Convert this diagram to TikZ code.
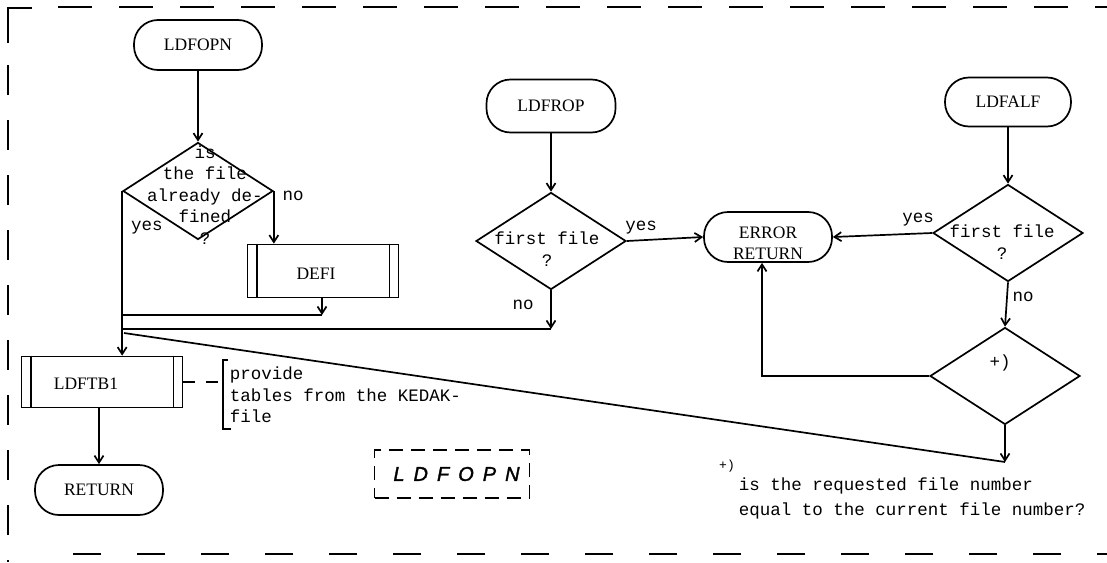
\documentclass[tikz,border=0pt]{standalone}
\usepackage{fontspec}
\setmainfont{Liberation Serif}
\newfontfamily\monof{Liberation Mono}
\newfontfamily\handf{Liberation Sans}[LetterSpace=45,FakeBold=1.5]
\usetikzlibrary{shapes.geometric,arrows.meta}
\begin{document}
\begin{tikzpicture}[x=1pt,y=-1pt,line width=1.7pt,
  term/.style={draw,rounded corners=24pt,minimum width=128pt,minimum height=50pt,inner sep=0pt,font=\fontsize{17.5}{21}\selectfont,align=center},
  subbox/.style={draw,minimum width=151pt,minimum height=53pt,inner sep=0pt},
  dec/.style={draw,diamond,minimum width=150pt,minimum height=97pt,inner sep=0pt},
  lab/.style={inner sep=0pt,font=\monof\fontsize{17.5}{21.5}\selectfont,align=center},
  arr/.style={-{Straight Barb[length=7pt,width=9pt]}}]
\useasboundingbox (0,0) rectangle (1107,562);

% frame
\draw[line width=1.8pt] (8,43) -- (8,8) -- (32,8);
\draw[dash pattern=on 34pt off 27pt] (58,7) -- (1107,7);
\draw[dash pattern=on 30pt off 25pt] (8,65) -- (8,562);
\draw[dash pattern=on 28pt off 36pt] (73,554) -- (1107,554);

% LDFOPN column
\node[term] (opn) at (198,45) {LDFOPN};
\node[dec] (d1) at (198,191) {};
\node[lab] (d1t) at (205,195) {is\\the file\\already de-\\fined\\?};
\node[subbox] (defi) at (323,271) {};
\node[inner sep=0pt,font=\fontsize{17.5}{21}\selectfont] (defit) at (316,274) {DEFI};
\draw ([xshift=10pt]defi.north west) -- ([xshift=10pt]defi.south west);
\draw ([xshift=-10pt]defi.north east) -- ([xshift=-10pt]defi.south east);
\node[subbox,minimum width=161pt,minimum height=51pt] (tb) at (102,382) {};
\node[inner sep=0pt,font=\fontsize{17.5}{21}\selectfont] (tbt) at (86,384) {LDFTB1};
\draw ([xshift=10pt]tb.north west) -- ([xshift=10pt]tb.south west);
\draw ([xshift=-10pt]tb.north east) -- ([xshift=-10pt]tb.south east);
\node[term] (ret) at (99,490) {RETURN};

% LDFROP column
\node[term,minimum width=129pt,minimum height=53pt] (rop) at (551,106) {LDFROP};
\node[dec] (d2) at (551,241) {};
\node[lab] (d2t) at (547,249) {first file\\?};

% error return
\node[term] (err) at (768,237) {};
\node[inner sep=0pt,font=\fontsize{17.5}{21}\selectfont,align=center] (errt) at (768,243) {ERROR\\RETURN};

% LDFALF column
\node[term,minimum width=126pt,minimum height=49pt] (alf) at (1008,102) {LDFALF};
\node[dec] (d3) at (1008,233) {};
\node[lab] (d3t) at (1002,242) {first file\\?};
\node[dec] (d4) at (1005,376) {};
\node[lab] (d4t) at (1000,363) {+)};

% junctions
\coordinate (j1) at (322,315);
\coordinate (j2) at (551,329);
\coordinate (j0) at (124,333);
\coordinate (j3) at (1005,462);

% connectors
\draw[arr] (opn) -- (d1);
\draw[arr] (d1.east) -- (d1.east |- defi.north);
\draw[arr] (d1.west) -- (d1.west |- tb.north);
\draw[arr] (defi.south -| j1) -- (j1);
\draw (j1) -- (j1 -| d1.west);
\draw[arr] (d2.south) -- (j2);
\draw (j2) -- (j2 -| d1.west);
\draw (j0) -- (j3);
\draw[arr] (d4.south) -- (j3);
\draw[arr] (rop) -- (d2);
\draw[arr] (d2.east) -- (err.west);
\draw[arr] (alf) -- (d3);
\draw[arr] (d3.west) -- (err.east);
\draw[arr] (d3.south) -- (d4.north);
\draw[arr] (d4.west) -| ([xshift=-6pt]err.south);
\draw[arr] (tb.south -| ret) -- (ret.north);

% branch labels
\node[lab] (y1) at (147,228) {yes};
\node[lab] (n1) at (293,196) {no};
\node[lab] (n2) at (523,305) {no};
\node[lab] (y2) at (641,228) {yes};
\node[lab] (y3) at (918,220) {yes};
\node[lab] (n3) at (1023,297) {no};

% annotation
\coordinate (bt) at (223,360);
\coordinate (bb) at (223,429);
\draw[dash pattern=on 12pt off 11pt] (tb.east) -- (bt |- tb.east);
\draw[line width=1.3pt] ([xshift=5pt]bt) -- (bt) -- (bb) -- ([xshift=8pt]bb);
\node[lab,anchor=west,align=left] (note) at (229,395) {provide\\tables from the KEDAK-\\file};

% title tag
\node[draw,line width=1.4pt,dash pattern=on 14pt off 8pt,minimum width=155pt,minimum height=48pt,font=\handf\itshape\fontsize{20}{24}\selectfont] (tag) at (452,474) {\hspace*{9pt}LDFOPN};

% footnote
\node[inner sep=0pt,font=\monof\fontsize{13}{15}\selectfont] (fnm) at (727,466) {+)};
\node[lab,anchor=west,align=left,font=\monof\fontsize{17.5}{25}\selectfont] (fn) at (738,498) {is the requested file number\\equal to the current file number?};
\end{tikzpicture}
\end{document}
